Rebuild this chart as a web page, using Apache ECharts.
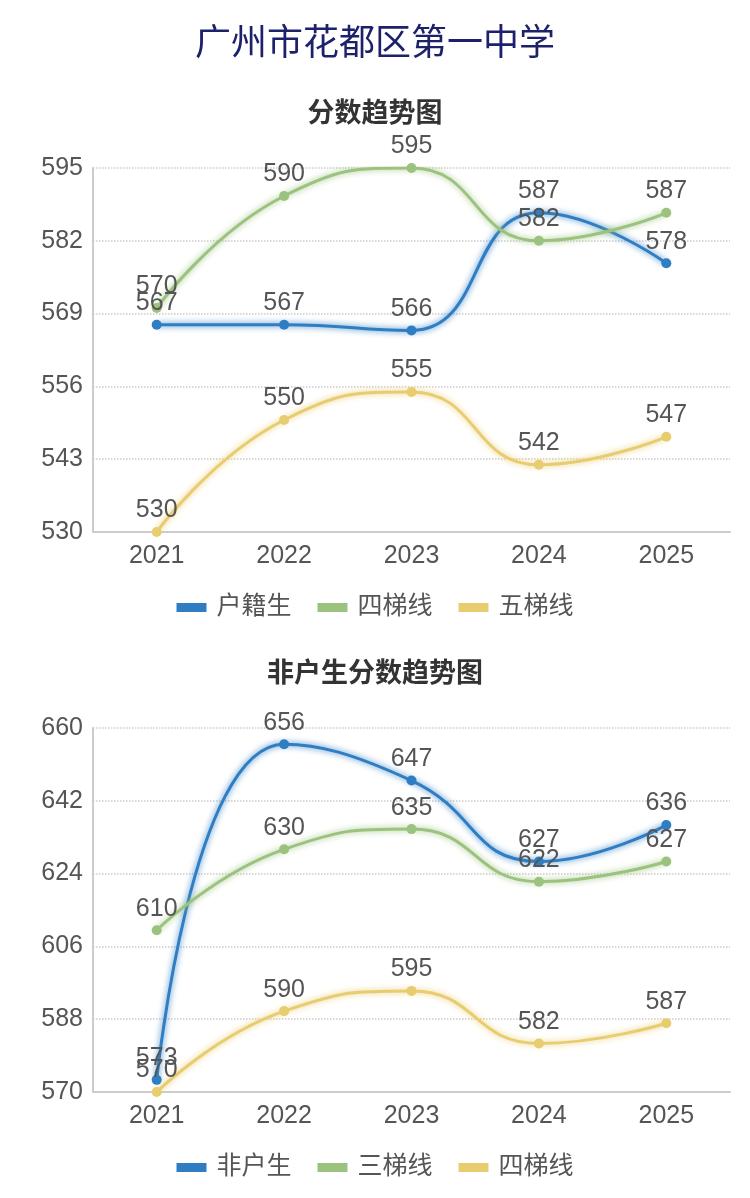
<!DOCTYPE html>
<html>
<head>
<meta charset="utf-8">
<script src="https://cdn.jsdelivr.net/npm/echarts@6/dist/echarts.min.js"></script>
<style>
  html, body { margin: 0; padding: 0; background: #fff; }
  #top { width: 750px; height: 640px; }
  #bottom { width: 750px; height: 558px; }
</style>
</head>
<body>
<div id="top"></div>
<div id="bottom"></div>
<script>
const years = ['2021', '2022', '2023', '2024', '2025'];

// 分数趋势图
const huji = [567, 567, 566, 587, 578];
const siTi1 = [570, 590, 595, 582, 587];
const wuTi = [530, 550, 555, 542, 547];

// 非户生分数趋势图
const feihu = [573, 656, 647, 627, 636];
const sanTi = [610, 630, 635, 622, 627];
const siTi2 = [570, 590, 595, 582, 587];

const BLUE = '#2f7dc2';
const GREEN = '#9bc27e';
const YELLOW = '#e8cc70';
const FONT = '"Liberation Sans", "Noto Sans CJK SC", sans-serif';

function line(name, data, color) {
  return {
    name: name,
    type: 'line',
    data: data,
    smooth: true,
    symbol: 'circle',
    symbolSize: 10,
    itemStyle: { color: color },
    lineStyle: { width: 3, color: color, shadowColor: color, shadowBlur: 6 },
    label: {
      show: true,
      position: 'top',
      distance: 4,
      color: '#555',
      fontSize: 25,
      fontFamily: FONT
    }
  };
}

// 两张图共用的坐标轴/图例样式
function baseOption(gridTop, legendTop, min, max, step, names) {
  return {
    backgroundColor: '#fff',
    animation: false,
    legend: {
      top: legendTop,
      left: 'center',
      icon: 'rect',
      itemWidth: 30,
      itemHeight: 9,
      itemGap: 26,
      data: names,
      textStyle: { color: '#555', fontSize: 25, fontFamily: FONT, padding: [0, 0, 0, 5] }
    },
    grid: { left: 93, right: 20, top: gridTop, height: 364 },
    xAxis: {
      type: 'category',
      data: years,
      axisTick: { show: false },
      axisLine: { lineStyle: { color: '#ccc', width: 2 } },
      axisLabel: { color: '#555', fontSize: 25, margin: 12, fontFamily: FONT }
    },
    yAxis: {
      type: 'value',
      min: min,
      max: max,
      interval: step,
      axisTick: { show: false },
      axisLine: { show: true, lineStyle: { color: '#ccc', width: 2 } },
      axisLabel: { color: '#555', fontSize: 25, margin: 10, fontFamily: FONT },
      splitLine: { lineStyle: { color: '#ccc', type: 'dotted', width: 1.5 } }
    }
  };
}

const chartTop = echarts.init(document.getElementById('top'));
const optTop = baseOption(168, 590, 530, 595, 13, ['户籍生', '四梯线', '五梯线']);
optTop.title = [
  {
    text: '广州市花都区第一中学',
    left: 'center',
    top: 22,
    textStyle: { color: '#1d206a', fontSize: 36, fontWeight: 'normal', fontFamily: FONT }
  },
  {
    text: '分数趋势图',
    left: 'center',
    top: 96,
    textStyle: { color: '#333', fontSize: 27, fontWeight: 'bold', fontFamily: FONT }
  }
];
optTop.series = [
  line('户籍生', huji, BLUE),
  line('四梯线', siTi1, GREEN),
  line('五梯线', wuTi, YELLOW)
];
chartTop.setOption(optTop);

const chartBottom = echarts.init(document.getElementById('bottom'));
const optBottom = baseOption(88, 510, 570, 660, 18, ['非户生', '三梯线', '四梯线']);
optBottom.title = {
  text: '非户生分数趋势图',
  left: 'center',
  top: 16,
  textStyle: { color: '#333', fontSize: 27, fontWeight: 'bold', fontFamily: FONT }
};
optBottom.series = [
  line('非户生', feihu, BLUE),
  line('三梯线', sanTi, GREEN),
  line('四梯线', siTi2, YELLOW)
];
chartBottom.setOption(optBottom);
</script>
</body>
</html>
